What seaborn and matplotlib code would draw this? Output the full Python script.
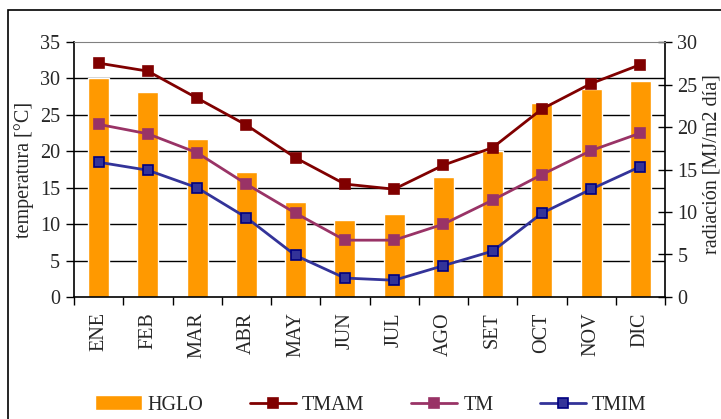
import numpy as np
import pandas as pd
import seaborn as sns
import matplotlib.pyplot as plt
from matplotlib.patches import Rectangle

# Datos
meses = ['ENE', 'FEB', 'MAR', 'ABR', 'MAY', 'JUN', 'JUL', 'AGO', 'SET', 'OCT', 'NOV', 'DIC']
hglo = [25.8, 24.1, 18.6, 14.7, 11.2, 9.1, 9.8, 14.1, 17.2, 22.8, 24.5, 25.4]
tmam = [32.1, 31.0, 27.3, 23.6, 19.1, 15.5, 14.8, 18.1, 20.5, 25.8, 29.3, 31.9]
tm = [23.7, 22.4, 19.8, 15.5, 11.5, 7.8, 7.8, 10.0, 13.3, 16.8, 20.1, 22.5]
tmim = [18.5, 17.4, 15.0, 10.9, 5.7, 2.6, 2.3, 4.3, 6.3, 11.5, 14.8, 17.9]

series = [('TMAM', tmam, '#800000', '#800000'),
          ('TM', tm, '#993366', '#993366'),
          ('TMIM', tmim, '#333399', '#000080')]

FS = 14.5

sns.set_style('white')
plt.rcParams['font.family'] = ['Liberation Serif', 'DejaVu Serif']
plt.rcParams['font.size'] = FS

fig = plt.figure(figsize=(7.21, 4.19), dpi=100)
ax = fig.add_axes([74/721, 1 - 297/419, (665 - 74)/721, (297 - 42)/419])
ax2 = ax.twinx()
ax.set_zorder(ax2.get_zorder() + 1)
ax.patch.set_visible(False)

# Barras de radiación (eje derecho)
df_bar = pd.DataFrame({'mes': meses, 'HGLO': hglo})
sns.barplot(data=df_bar, x='mes', y='HGLO', color='#FF9900', saturation=1,
            width=0.43, ax=ax2)
ax2.set_ylim(0, 30)
ax2.set_yticks(np.arange(0, 31, 5))
# líneas de grilla alineadas con el eje izquierdo (cada 5 °C)
ax2.set_yticks([30 * k / 7 for k in range(1, 7)], minor=True)
ax2.tick_params(axis='y', which='minor', length=0)
ax2.grid(which='minor', axis='y', color='black', lw=1)
ax2.grid(which='major', visible=False)
ax2.set_axisbelow(True)
ax2.tick_params(axis='y', which='major', direction='inout', length=10,
                width=1, color='black', labelsize=FS, pad=4)
ax2.set_ylabel('radiación [MJ/m2 día]', fontsize=FS, rotation=90)
ax2.yaxis.set_label_coords(1.064, 0.52)

# Líneas de temperatura (eje izquierdo)
for nombre, vals, col, edge in series:
    sns.pointplot(x=meses, y=vals, color=col, markers='s', linestyles='-',
                  markersize=7, linewidth=2, markeredgecolor=edge,
                  markeredgewidth=1.2, errorbar=None, ax=ax)

ax.set_ylim(0, 35)
ax.set_yticks(np.arange(0, 36, 5))
ax.set_xlim(-0.5, len(meses) - 0.5)
ax.grid(False)
ax.tick_params(axis='y', direction='out', length=6, width=1, color='black',
               left=True, labelsize=FS, pad=4)
ax.set_ylabel('temperatura [°C]', fontsize=FS)
ax.yaxis.set_label_coords(-0.068, 0.5)
ax.set_xlabel('')
ax.set_xticks(range(len(meses)))
ax.set_xticklabels(meses, rotation=90, fontsize=FS)
ax.set_xticks(np.arange(-0.5, len(meses), 1), minor=True)
ax.tick_params(axis='x', which='major', length=0, pad=11)
ax.tick_params(axis='x', which='minor', direction='out', length=6, width=1,
               color='black', bottom=True)
ax2.set_xlabel('')

for sp in ['left', 'bottom']:
    ax.spines[sp].set_color('black')
    ax.spines[sp].set_linewidth(1.2)
ax.spines['top'].set_color('#808080')
ax.spines['right'].set_visible(False)
for sp in ['left', 'bottom', 'top']:
    ax2.spines[sp].set_visible(False)
ax2.spines['right'].set_color('black')
ax2.spines['right'].set_linewidth(1.2)

for a in (ax, ax2):
    if a.get_legend() is not None:
        a.get_legend().remove()

# Leyenda
handles = [ax2.containers[0]] + ax.get_lines()[:3]
labels = ['HGLO', 'TMAM', 'TM', 'TMIM']
fig.legend(handles, labels, ncol=4, loc='center',
           bbox_to_anchor=(371/721, 1 - 405/419), frameon=False,
           handlelength=2.3, columnspacing=2.3, handletextpad=0.3, fontsize=FS)

# Marco exterior del gráfico
fig.add_artist(Rectangle((8/721, -0.1), 1.0, 1.1 - 10/419, transform=fig.transFigure,
                         fill=False, edgecolor='black', lw=1.2))

fig.savefig('out.png', dpi=100)
